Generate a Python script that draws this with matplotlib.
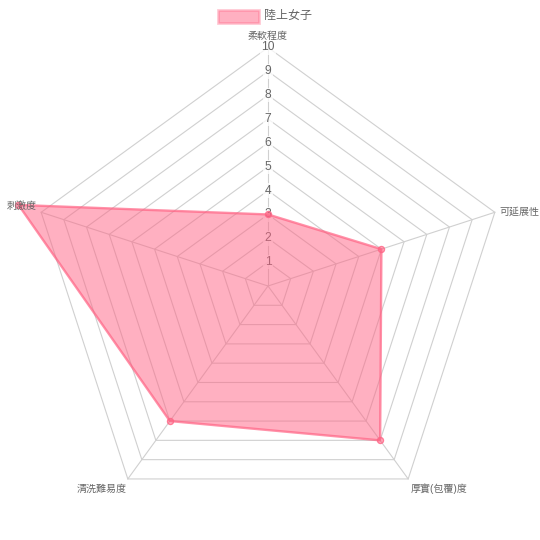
import numpy as np
import matplotlib
matplotlib.use("Agg")
import matplotlib.pyplot as plt
from matplotlib.patches import Rectangle

categories = ["柔軟程度", "可延展性", "厚實(包覆)度", "清洗難易度", "刺激度"]
values = [3, 5, 8, 7, 11]
series_name = "陸上女子"
tick_values = [1, 2, 3, 4, 5, 6, 7, 8, 9, 10]
scale_max = 10

FONT = ["Liberation Sans", "Noto Sans CJK TC", "DejaVu Sans"]
plt.rcParams["font.family"] = FONT

PX = 0.72  # points per pixel at dpi 100
unit = 23.85  # pixels per value unit
cx, cy = 268, 286

fig = plt.figure(figsize=(5.4, 5.4), dpi=100)
ax = fig.add_axes([0, 0, 1, 1])
ax.set_xlim(-cx / unit, (540 - cx) / unit)
ax.set_ylim(-(540 - cy) / unit, cy / unit)
ax.axis("off")

n = len(categories)
angles = np.pi / 2 - np.arange(n) * 2 * np.pi / n

grid_col = "#d0d0d0"
# pentagon grid
for t in tick_values:
    xs = t * np.cos(angles)
    ys = t * np.sin(angles)
    ax.plot(np.append(xs, xs[0]), np.append(ys, ys[0]), color=grid_col, lw=0.8, zorder=1)
# angle lines
for a in angles:
    ax.plot([0, scale_max * np.cos(a)], [0, scale_max * np.sin(a)], color=grid_col, lw=0.8, zorder=1)

# tick labels
for t in tick_values:
    ax.text(0, t, str(t), ha="center", va="center", fontsize=12 * PX, color="#666666",
            zorder=2, bbox=dict(boxstyle="square,pad=0.1", fc=(1, 1, 1, 0.75), ec="none"))

pink = (1, 99 / 255, 132 / 255)
# dataset
vals = np.array(values, dtype=float)
px = vals * np.cos(angles)
py = vals * np.sin(angles)
ax.fill(px, py, color=pink + (0.5,), lw=0, zorder=3)
ax.plot(np.append(px, px[0]), np.append(py, py[0]), color=pink + (0.7,),
        lw=1.7, zorder=4, solid_joinstyle="miter")
ax.plot(px, py, "o", ms=6 * PX, mfc=pink + (0.5,),
        mec=pink + (0.8,), mew=1, zorder=5, ls="none")

# point labels
offsets = [(0, 11, "center"), (5, 1, "left"), (2, -10, "left"), (-1, -10, "right"), (-4, 6, "right")]
for lab, a, (dx, dy, ha) in zip(categories, angles, offsets):
    ax.annotate(lab, (scale_max * np.cos(a), scale_max * np.sin(a)),
                xytext=(dx * PX, dy * PX), textcoords="offset points",
                ha=ha, va="center", fontsize=10 * PX, color="#666666", zorder=6)

# legend
box = Rectangle((218 / 540, 1 - 23 / 540), 41 / 540, 13 / 540, transform=fig.transFigure,
                fc=pink + (0.5,), ec=pink + (0.35,), lw=2)
fig.patches.append(box)
fig.text(264 / 540, 1 - 15.5 / 540, series_name, ha="left", va="center", fontsize=12 * PX,
         color="#666666")

fig.savefig("out.png", dpi=100)
